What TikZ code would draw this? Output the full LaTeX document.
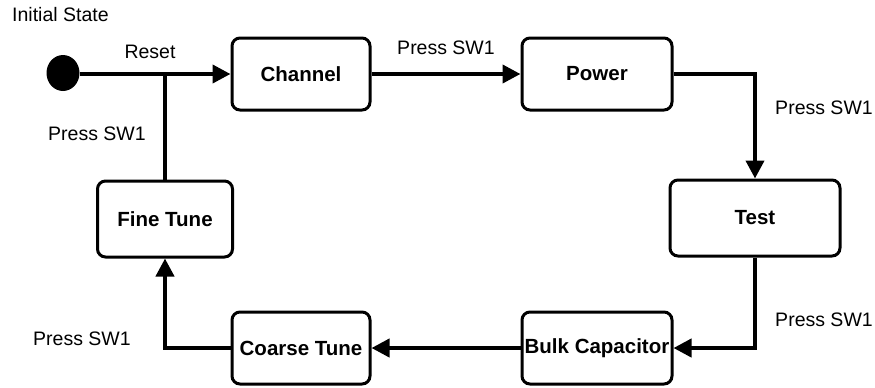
\documentclass[tikz,border=0pt]{standalone}
\usepackage{fontspec}
\setmainfont{Liberation Sans}
\usetikzlibrary{arrows.meta, shapes.geometric}

\begin{document}
\begin{tikzpicture}[
		x=1bp, y=-1bp,
		every node/.style={inner sep=0pt, font=\fontsize{19.5bp}{23bp}\selectfont},
		state/.style={draw, line width=3bp, rounded corners=8bp, minimum height=72bp, font=\fontsize{20.5bp}{24bp}\selectfont\bfseries},
		flow/.style={line width=4bp, -{Triangle[length=18bp, width=18bp]}}
	]
  \useasboundingbox (0,0) rectangle (875,387);
  \node (init) [ellipse, fill, minimum width=33bp, minimum height=36bp] at (63,73) {};
  \node (channel) [state, minimum width=138bp] at (301,74) {Channel};
  \node (power) [state, minimum width=150bp] at (597,74) {Power};
  \node (test) [state, minimum width=170bp, minimum height=76bp] at (755,218) {Test};
  \node (bulk) [state, minimum width=150bp] at (597,348) {Bulk Capacitor};
  \node (coarse) [state, minimum width=138bp] at (301,348) {Coarse Tune};
  \node (fine) [state, minimum width=135bp, minimum height=76bp] at (165,219) {Fine Tune};
  \coordinate (join) at (165,74);
  \node (l_init) [anchor=west] at (12,15) {Initial State};
  \node (l_reset) at (150,52) {Reset};
  \node (l_sw_a) at (446,48) {Press SW1};
  \node (l_sw_b) at (824,108) {Press SW1};
  \node (l_sw_c) at (824,320) {Press SW1};
  \node (l_sw_d) at (82,339) {Press SW1};
  \node (l_sw_e) at (97,134) {Press SW1};
  \draw [flow] (init.east |- channel) -- (channel.west);
  \draw [flow] (channel) -- (power);
  \draw [flow] (power.east) -| (test.north);
  \draw [flow] (test.south) |- (bulk.east);
  \draw [flow] (bulk) -- (coarse);
  \draw [flow] (coarse.west) -| (fine.south);
  \draw [line width=4bp] (fine.north) -- (join);
\end{tikzpicture}
\end{document}
